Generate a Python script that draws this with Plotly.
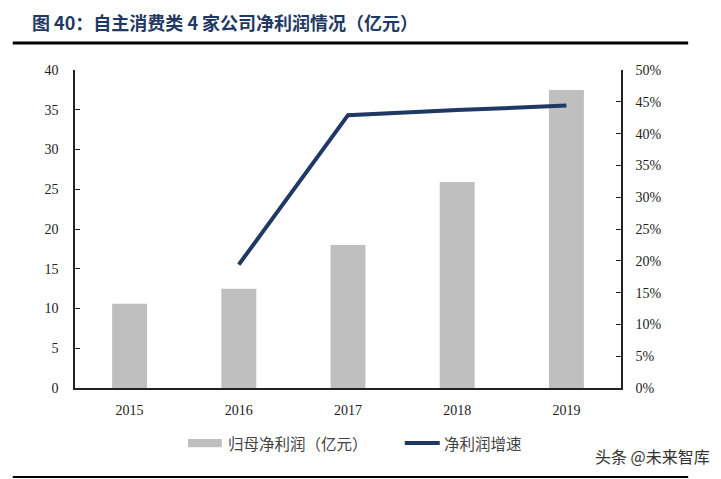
import plotly.graph_objects as go

# datos
years = ["2015", "2016", "2017", "2018", "2019"]
net_profit = [10.6, 12.5, 18.0, 25.9, 37.5]          # 亿元
growth_years = ["2016", "2017", "2018", "2019"]
growth_pct = [19.4, 42.9, 43.7, 44.4]                 # %

left_ticks = [0, 5, 10, 15, 20, 25, 30, 35, 40]
right_ticks = [0, 5, 10, 15, 20, 25, 30, 35, 40, 45, 50]

BAR_GRAY = "#bfbfbf"
NAVY = "#1f3864"
SERIF = "Liberation Serif, Times New Roman, serif"
CJK = "Noto Sans CJK SC"

fig = go.Figure()

fig.add_trace(go.Bar(
    x=years, y=net_profit, name="归母净利润（亿元）",
    marker=dict(color=BAR_GRAY, line=dict(width=0)),
    width=0.32, yaxis="y", showlegend=False, hoverinfo="x+y",
))

fig.add_trace(go.Scatter(
    x=growth_years, y=growth_pct, name="净利润增速",
    mode="lines", line=dict(color=NAVY, width=4),
    yaxis="y2", showlegend=False,
))

axis_font = dict(family=SERIF, size=14, color="#222")

# la página tiene 8px de margen en el body, se compensa aquí
fig.update_layout(
    width=713, height=471,
    margin=dict(l=67, r=100, t=62, b=91),
    paper_bgcolor="white", plot_bgcolor="white",
    xaxis=dict(
        type="category", showline=True, linecolor="#222", linewidth=1.5,
        ticks="", tickfont=dict(family=SERIF, size=14, color="#222"),
        ticklabelstandoff=8, showgrid=False, zeroline=False,
    ),
    yaxis=dict(
        range=[0, 40], tickvals=left_ticks, showline=True, linecolor="#222",
        linewidth=1.5, ticks="inside", ticklen=5, tickcolor="#222",
        tickfont=axis_font, ticklabelstandoff=12, showgrid=False, zeroline=False,
    ),
    yaxis2=dict(
        range=[0, 50], tickvals=right_ticks,
        ticktext=[f"{v}%" for v in right_ticks],
        overlaying="y", side="right", showline=True, linecolor="#222",
        linewidth=1.5, ticks="inside", ticklen=5, tickcolor="#222",
        tickfont=axis_font, ticklabelstandoff=10, showgrid=False, zeroline=False,
    ),
)

# título y líneas de marco
fig.add_annotation(
    xref="paper", yref="paper", x=-0.083, y=1.152, xanchor="left", yanchor="middle",
    text="<b>图 40：自主消费类 4 家公司净利润情况（亿元）</b>", showarrow=False,
    font=dict(family=CJK, size=18, color=NAVY),
)
fig.add_shape(type="line", xref="paper", yref="paper",
              x0=-0.114, x1=1.123, y0=1.085, y1=1.085,
              line=dict(color="black", width=3))
fig.add_shape(type="line", xref="paper", yref="paper",
              x0=-0.114, x1=1.123, y0=-0.28, y1=-0.28,
              line=dict(color="black", width=2))

# leyenda manual
ly = -0.173
fig.add_shape(type="rect", xref="paper", yref="paper",
              x0=0.207, x1=0.269, y0=ly - 0.013, y1=ly + 0.013,
              fillcolor=BAR_GRAY, line=dict(width=0))
fig.add_annotation(xref="paper", yref="paper", x=0.276, y=ly, xanchor="left",
                   yanchor="middle", text="归母净利润（亿元）", showarrow=False,
                   font=dict(family=CJK, size=15.5, color="#444"))
fig.add_shape(type="line", xref="paper", yref="paper",
              x0=0.604, x1=0.668, y0=ly, y1=ly,
              line=dict(color=NAVY, width=4))
fig.add_annotation(xref="paper", yref="paper", x=0.672, y=ly, xanchor="left",
                   yanchor="middle", text="净利润增速", showarrow=False,
                   font=dict(family=CJK, size=15.5, color="#444"))

# marca de agua
fig.add_annotation(xref="paper", yref="paper", x=1.167, y=-0.215, xanchor="right",
                   yanchor="middle", text="头条 @未来智库", showarrow=False,
                   font=dict(family=CJK, size=16, color="#333"))

fig.write_html("out.html")
